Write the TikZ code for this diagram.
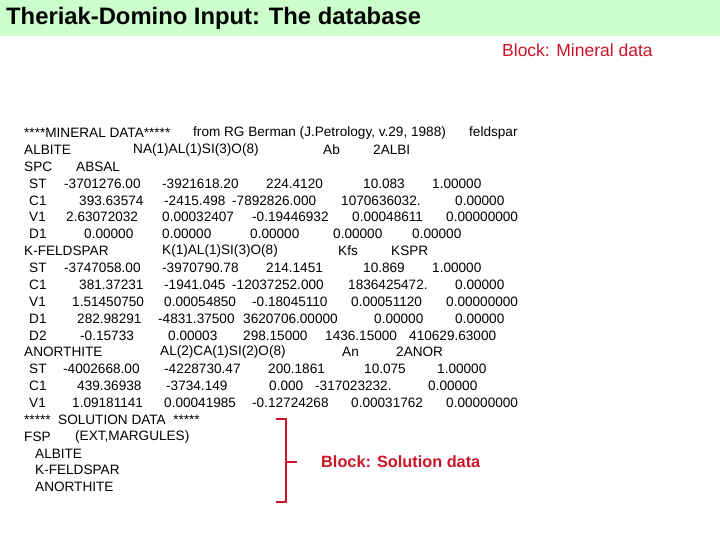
\documentclass[tikz,border=0pt]{standalone}
\usepackage{fontspec}
\setmainfont{Liberation Sans}
\definecolor{hdr}{RGB}{204,255,204}
\definecolor{brk}{RGB}{204,20,40}
\newcommand\tk[3]{\node[tx] (t#1-#2) at (#2,{133+16.86*(#1-1)}) {#3};}
\begin{document}
\begin{tikzpicture}[x=1pt,y=-1pt,
  tx/.style={anchor=west,inner sep=0pt,font=\fontsize{13.6}{15}\selectfont},
  red/.style={text=brk,anchor=west,inner sep=0pt}]
\useasboundingbox (0,0) rectangle (720,540);
\fill[hdr] (0,0) rectangle (720,36);
\node[anchor=west,inner sep=0pt,font=\fontsize{23.8}{26}\bfseries] (title) at (6,18) {Theriak-Domino Input: The database};
\node[red,font=\fontsize{17.5}{20}\selectfont] (bm) at (502,50) {Block: Mineral data};
\tk{1}{24}{****MINERAL DATA*****}\tk{1}{193}{from RG Berman (J.Petrology, v.29, 1988)}\tk{1}{469}{feldspar}
\tk{2}{24}{ALBITE}\tk{2}{133}{NA(1)AL(1)SI(3)O(8)}\tk{2}{323}{Ab}\tk{2}{373}{2ALBI}
\tk{3}{24}{SPC}\tk{3}{76}{ABSAL}
\tk{4}{29}{ST}\tk{4}{64}{-3701276.00}\tk{4}{162}{-3921618.20}\tk{4}{266}{224.4120}\tk{4}{363}{10.083}\tk{4}{432}{1.00000}
\tk{5}{29}{C1}\tk{5}{79}{393.63574}\tk{5}{164}{-2415.498}\tk{5}{232}{-7892826.000}\tk{5}{341}{1070636032.}\tk{5}{455}{0.00000}
\tk{6}{29}{V1}\tk{6}{66}{2.63072032}\tk{6}{162}{0.00032407}\tk{6}{252}{-0.19446932}\tk{6}{352}{0.00048611}\tk{6}{446}{0.00000000}
\tk{7}{29}{D1}\tk{7}{84}{0.00000}\tk{7}{162}{0.00000}\tk{7}{250}{0.00000}\tk{7}{333}{0.00000}\tk{7}{412}{0.00000}
\tk{8}{24}{K-FELDSPAR}\tk{8}{162}{K(1)AL(1)SI(3)O(8)}\tk{8}{338}{Kfs}\tk{8}{391}{KSPR}
\tk{9}{29}{ST}\tk{9}{64}{-3747058.00}\tk{9}{162}{-3970790.78}\tk{9}{266}{214.1451}\tk{9}{363}{10.869}\tk{9}{432}{1.00000}
\tk{10}{29}{C1}\tk{10}{79}{381.37231}\tk{10}{164}{-1941.045}\tk{10}{232}{-12037252.000}\tk{10}{348}{1836425472.}\tk{10}{455}{0.00000}
\tk{11}{29}{V1}\tk{11}{72}{1.51450750}\tk{11}{164}{0.00054850}\tk{11}{252}{-0.18045110}\tk{11}{351}{0.00051120}\tk{11}{446}{0.00000000}
\tk{12}{29}{D1}\tk{12}{77}{282.98291}\tk{12}{158}{-4831.37500}\tk{12}{243}{3620706.00000}\tk{12}{374}{0.00000}\tk{12}{455}{0.00000}
\tk{13}{29}{D2}\tk{13}{80}{-0.15733}\tk{13}{168}{0.00003}\tk{13}{243}{298.15000}\tk{13}{325}{1436.15000}\tk{13}{409}{410629.63000}
\tk{14}{24}{ANORTHITE}\tk{14}{160}{AL(2)CA(1)SI(2)O(8)}\tk{14}{342}{An}\tk{14}{396}{2ANOR}
\tk{15}{29}{ST}\tk{15}{63}{-4002668.00}\tk{15}{164}{-4228730.47}\tk{15}{268}{200.1861}\tk{15}{364}{10.075}\tk{15}{437}{1.00000}
\tk{16}{29}{C1}\tk{16}{77}{439.36938}\tk{16}{166}{-3734.149}\tk{16}{269}{0.000}\tk{16}{315}{-317023232.}\tk{16}{428}{0.00000}
\tk{17}{29}{V1}\tk{17}{72}{1.09181141}\tk{17}{164}{0.00041985}\tk{17}{252}{-0.12724268}\tk{17}{351}{0.00031762}\tk{17}{446}{0.00000000}
\tk{18}{24}{*****\ \ SOLUTION DATA\ \ *****}
\tk{19}{24}{FSP}\tk{19}{75}{(EXT,MARGULES)}
\tk{20}{35}{ALBITE}
\tk{21}{35}{K-FELDSPAR}
\tk{22}{35}{ANORTHITE}
\coordinate (bt) at (276,419);
\coordinate (bb) at (276,502);
\coordinate (bm2) at (297,462);
\draw[brk,line width=2.6pt] (bt) -- (286,419) -- (286,502) -- (bb);
\draw[brk,line width=2.6pt] (286,462) -- (bm2);
\node[red,font=\fontsize{16.3}{18}\bfseries] (bs) at (321,462) {Block: Solution data};
\end{tikzpicture}
\end{document}
